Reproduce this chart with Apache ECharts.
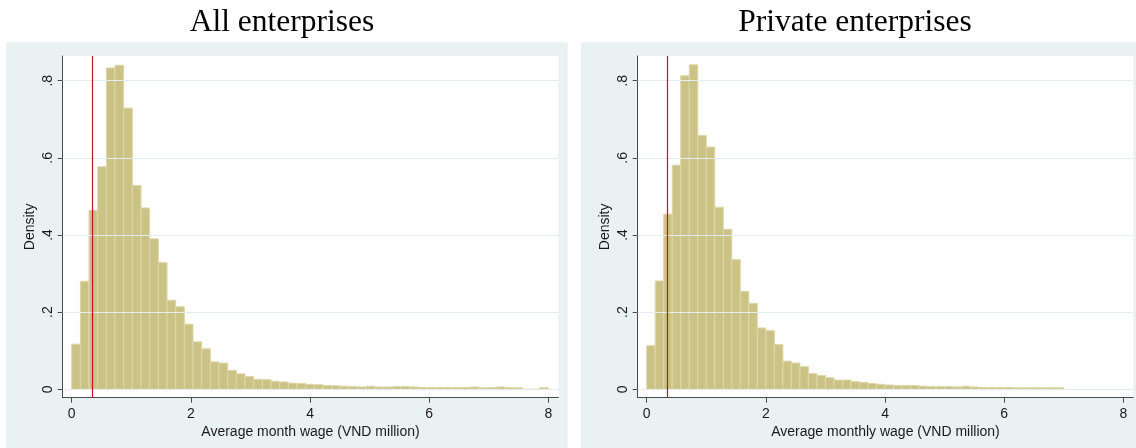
<!DOCTYPE html>
<html>
<head>
<meta charset="utf-8">
<script src="https://cdn.jsdelivr.net/npm/echarts@6/dist/echarts.min.js"></script>
<style>
html,body{margin:0;padding:0;background:#fff;}
#chart{width:1136px;height:448px;}
</style>
</head>
<body>
<div id="chart"></div>
<script>
// ---- data ----
var panelTitles = ['All enterprises', 'Private enterprises'];
var xTitles = ['Average month wage (VND million)', 'Average monthly wage (VND million)'];
var xTicks = [0, 2, 4, 6, 8];
var yTicks = [0, 0.2, 0.4, 0.6, 0.8];
var yTickLabels = ['0', '.2', '.4', '.6', '.8'];
var minWageLine = 0.35;

// All enterprises: 55 bins from 0 to 8
var allStart = 0, allEnd = 8;
var allDensity = [0.117, 0.280, 0.464, 0.577, 0.833, 0.840, 0.729, 0.528, 0.470, 0.390,
  0.329, 0.231, 0.214, 0.169, 0.123, 0.105, 0.071, 0.068, 0.049, 0.040,
  0.033, 0.026, 0.025, 0.021, 0.019, 0.016, 0.015, 0.013, 0.012, 0.010,
  0.009, 0.008, 0.007, 0.006, 0.008, 0.006, 0.006, 0.007, 0.007, 0.006,
  0.005, 0.005, 0.005, 0.005, 0.005, 0.005, 0.006, 0.004, 0.004, 0.006,
  0.004, 0.004, 0, 0, 0.004];

// Private enterprises: 49 bins from 0 to 7
var privStart = 0, privEnd = 7;
var privDensity = [0.113, 0.281, 0.454, 0.581, 0.813, 0.841, 0.658, 0.628, 0.472, 0.415,
  0.336, 0.254, 0.223, 0.159, 0.152, 0.116, 0.073, 0.068, 0.059, 0.041,
  0.036, 0.030, 0.024, 0.024, 0.020, 0.018, 0.015, 0.013, 0.011, 0.010,
  0.010, 0.0095, 0.008, 0.007, 0.007, 0.007, 0.006, 0.008, 0.006, 0.005,
  0.005, 0.005, 0.005, 0.004, 0.004, 0.004, 0.004, 0.004, 0.004];

// ---- build ----
function bins(start, end, dens) {
  var w = (end - start) / dens.length;
  return dens.map(function (d, i) { return [start + i * w, start + (i + 1) * w, d]; });
}

var FONT = '"Liberation Sans", Arial, sans-serif';
var AXIS_COLOR = '#4a4a4a';
var BAR_FILL = '#CBC386';
var BAR_EDGE = '#DDD7AA';
var GRID_COLOR = '#E4ECEF';
var BG_GRAY = '#EAF1F3';
var TITLE_FONT = '31.5px "Liberation Serif", "Times New Roman", serif';

var grids = [
  { left: 62.7, right: 1136 - 558.3, top: 56, bottom: 448 - 397.7 },
  { left: 637.7, right: 1136 - 1133.3, top: 56, bottom: 448 - 397.7 }
];

function makeX(i) {
  return {
    type: 'value', gridIndex: i, min: -0.151, max: 8.167,
    name: xTitles[i], nameLocation: 'middle', nameGap: 25,
    nameTextStyle: { fontFamily: FONT, fontSize: 14, color: '#1a1a1a' },
    axisLine: { show: true, onZero: false, lineStyle: { color: AXIS_COLOR, width: 1 } },
    axisTick: { show: true, length: 5, customValues: xTicks, lineStyle: { color: AXIS_COLOR } },
    axisLabel: { show: true, margin: 9, customValues: xTicks, fontFamily: FONT, fontSize: 14, color: '#1a1a1a' },
    splitLine: { show: false }
  };
}
function makeY(i) {
  return {
    type: 'value', gridIndex: i, min: -0.0218, max: 0.864,
    name: 'Density', nameLocation: 'middle', nameGap: 26,
    nameTextStyle: { fontFamily: FONT, fontSize: 14, color: '#1a1a1a' },
    axisLine: { show: true, onZero: false, lineStyle: { color: AXIS_COLOR, width: 1 } },
    axisTick: { show: true, length: 5, customValues: yTicks, lineStyle: { color: AXIS_COLOR } },
    axisLabel: {
      show: true, margin: 8, rotate: 90, customValues: yTicks,
      fontFamily: FONT, fontSize: 14, color: '#1a1a1a',
      formatter: function (v) {
        for (var k = 0; k < yTicks.length; k++) if (Math.abs(yTicks[k] - v) < 1e-9) return yTickLabels[k];
        return '';
      }
    },
    splitLine: { show: false }
  };
}

function histSeries(i, data) {
  return {
    type: 'custom', xAxisIndex: i, yAxisIndex: i, z: 2,
    data: data,
    renderItem: function (params, api) {
      var p0 = api.coord([api.value(0), api.value(2)]);
      var p1 = api.coord([api.value(1), 0]);
      return {
        type: 'rect',
        shape: { x: p0[0], y: p0[1], width: p1[0] - p0[0], height: p1[1] - p0[1] },
        style: { fill: BAR_FILL, stroke: BAR_EDGE, lineWidth: 1 }
      };
    },
    silent: true
  };
}
function gridSeries(i) {
  return {
    type: 'line', xAxisIndex: i, yAxisIndex: i, data: [], z: 1, silent: true,
    markLine: {
      silent: true, symbol: 'none', label: { show: false },
      lineStyle: { color: GRID_COLOR, type: 'solid', width: 1.2 },
      data: yTicks.map(function (v) { return { yAxis: v }; })
    }
  };
}
function redSeries(i) {
  return {
    type: 'line', xAxisIndex: i, yAxisIndex: i, data: [], z: 5, silent: true,
    markLine: {
      silent: true, symbol: 'none', label: { show: false },
      lineStyle: { color: '#C8102E', type: 'solid', width: 1.2 },
      data: [{ xAxis: minWageLine }]
    }
  };
}

var chart = echarts.init(document.getElementById('chart'), null, { renderer: 'canvas' });
chart.setOption({
  backgroundColor: '#ffffff',
  animation: false,
  graphic: [
    { type: 'rect', z: -10, shape: { x: 6, y: 42.3, width: 561.7, height: 405.7 }, style: { fill: BG_GRAY } },
    { type: 'rect', z: -10, shape: { x: 581, y: 42.3, width: 555, height: 405.7 }, style: { fill: BG_GRAY } },
    { type: 'text', x: 282, y: 23, style: { text: panelTitles[0], font: TITLE_FONT, fill: '#000', textAlign: 'center', textVerticalAlign: 'middle' } },
    { type: 'text', x: 855, y: 23, style: { text: panelTitles[1], font: TITLE_FONT, fill: '#000', textAlign: 'center', textVerticalAlign: 'middle' } }
  ],
  grid: grids.map(function (g) {
    return Object.assign({ show: true, backgroundColor: '#ffffff', borderWidth: 0, containLabel: false }, g);
  }),
  xAxis: [makeX(0), makeX(1)],
  yAxis: [makeY(0), makeY(1)],
  series: [
    gridSeries(0), gridSeries(1),
    histSeries(0, bins(allStart, allEnd, allDensity)),
    histSeries(1, bins(privStart, privEnd, privDensity)),
    redSeries(0), redSeries(1)
  ]
});
</script>
</body>
</html>
